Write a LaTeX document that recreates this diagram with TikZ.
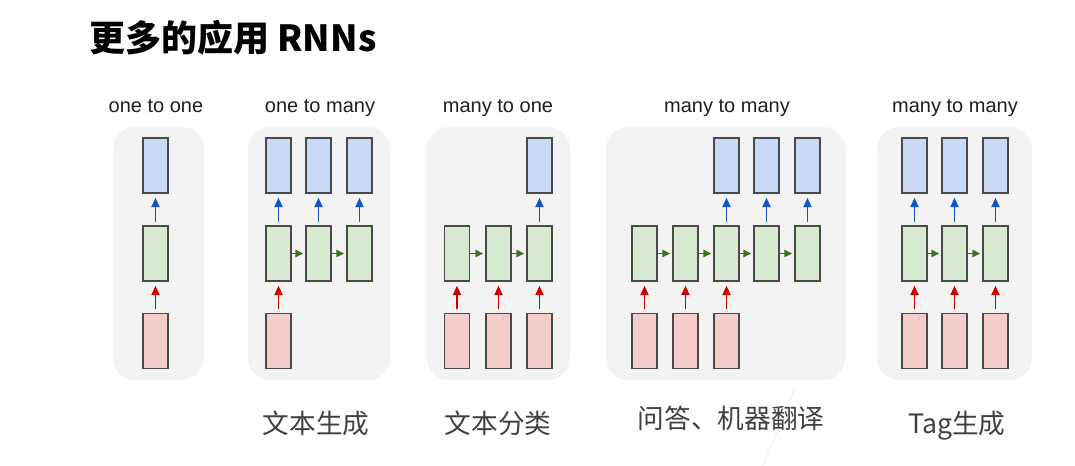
\documentclass[tikz,border=0pt]{standalone}
\usepackage{fontspec}
\setmainfont{Liberation Sans}
\newfontfamily\cjk{Noto Sans CJK SC}
\usetikzlibrary{arrows.meta}
\definecolor{panelbg}{HTML}{F3F3F3}
\definecolor{bluefill}{HTML}{C9DAF8}
\definecolor{greenfill}{HTML}{D9EAD3}
\definecolor{redfill}{HTML}{F4CCCC}
\definecolor{boxline}{HTML}{4A4A4A}
\definecolor{bluearr}{HTML}{1155CC}
\definecolor{redarr}{HTML}{CC0000}
\definecolor{greenarr}{HTML}{38761D}
\definecolor{labelgrey}{HTML}{404040}
\tikzset{
  panel/.style={fill=panelbg, draw=none, rounded corners=16.5pt},
  cell/.style={draw=boxline, line width=1.1pt, minimum width=18.75pt, minimum height=41.25pt, inner sep=0pt},
  outcell/.style={cell, fill=bluefill},
  hidcell/.style={cell, fill=greenfill},
  incell/.style={cell, fill=redfill},
  uparr/.style={line width=1.35pt, -{Triangle[length=7pt,width=6pt]}, shorten <=2.5pt, shorten >=3pt},
  bluearrow/.style={uparr, draw=bluearr, fill=bluearr},
  redarrow/.style={uparr, draw=redarr, fill=redarr},
  greenarrow/.style={line width=1.35pt, -{Triangle[length=6pt,width=5.4pt]}, draw=greenarr, fill=greenarr, shorten >=1.5pt},
  toplabel/.style={anchor=base, inner sep=0pt, text=black!88, font=\fontsize{15pt}{18pt}\selectfont},
  botlabel/.style={anchor=base, inner sep=0pt, text=labelgrey, font=\cjk\fontsize{20pt}{24pt}\selectfont},
}
\begin{document}
\begin{tikzpicture}[x=0.75pt, y=-0.75pt]
\useasboundingbox (0,0) rectangle (1075,466);
% title
\node[anchor=base west, inner sep=0pt, font=\cjk\bfseries\fontsize{27pt}{31pt}\selectfont] (title) at (89,52) {更多的应用 RNNs};
% faint artifact line
\draw[black!8, line width=0.5pt] (795,388) -- (763,466);
% panels
\fill[panel] (113,127) rectangle (204,380);
\fill[panel] (248,127) rectangle (390,380);
\fill[panel] (427,127) rectangle (570,380);
\fill[panel] (606,127) rectangle (845,380);
\fill[panel] (877,127) rectangle (1032,380);
% top labels
\node[toplabel] (t1) at (156,113) {one to one};
\node[toplabel] (t2) at (320,113) {one to many};
\node[toplabel] (t3) at (498,113) {many to one};
\node[toplabel] (t4) at (727,113) {many to many};
\node[toplabel] (t5) at (955,113) {many to many};
% bottom labels
\node[botlabel] (b2) at (316,434) {文本生成};
\node[botlabel] (b3) at (498,434) {文本分类};
\node[botlabel] (b4) at (731,429) {问答、机器翻译};
\node[botlabel] (b5) at (957,434) {Tag生成};
% ---------- panel 1: one to one
\node[outcell] (a1o) at (155.5,165.5) {};
\node[hidcell] (a1h) at (155.5,253.5) {};
\node[incell]  (a1i) at (155.5,341) {};
\draw[bluearrow] (a1h) -- (a1o);
\draw[redarrow] (a1i) -- (a1h);
% ---------- panel 2: one to many
\foreach \i/\x in {1/278.5,2/318.5,3/359.5}{
  \node[outcell] (b\i o) at (\x,165.5) {};
  \node[hidcell] (b\i h) at (\x,253.5) {};
  \draw[bluearrow] (b\i h) -- (b\i o);
}
\node[incell] (b1i) at (278.5,341) {};
\draw[redarrow] (b1i) -- (b1h);
\draw[greenarrow] (b1h) -- (b2h);
\draw[greenarrow] (b2h) -- (b3h);
% ---------- panel 3: many to one
\foreach \i/\x in {1/457,2/498.5,3/539.5}{
  \node[hidcell] (c\i h) at (\x,253.5) {};
  \node[incell] (c\i i) at (\x,341) {};
  \draw[redarrow] (c\i i) -- (c\i h);
}
\node[outcell] (c3o) at (539.5,165.5) {};
\draw[bluearrow] (c3h) -- (c3o);
\draw[greenarrow] (c1h) -- (c2h);
\draw[greenarrow] (c2h) -- (c3h);
% ---------- panel 4: many to many (seq2seq)
\foreach \i/\x in {1/644.5,2/685.5,3/726.5,4/766.5,5/807.5}{
  \node[hidcell] (d\i h) at (\x,253.5) {};
}
\foreach \i/\x in {1/644.5,2/685.5,3/726.5}{
  \node[incell] (d\i i) at (\x,341) {};
  \draw[redarrow] (d\i i) -- (d\i h);
}
\foreach \i/\x in {3/726.5,4/766.5,5/807.5}{
  \node[outcell] (d\i o) at (\x,165.5) {};
  \draw[bluearrow] (d\i h) -- (d\i o);
}
\draw[greenarrow] (d1h) -- (d2h);
\draw[greenarrow] (d2h) -- (d3h);
\draw[greenarrow] (d3h) -- (d4h);
\draw[greenarrow] (d4h) -- (d5h);
% ---------- panel 5: many to many (synced)
\foreach \i/\x in {1/914.5,2/954.5,3/995.5}{
  \node[outcell] (e\i o) at (\x,165.5) {};
  \node[hidcell] (e\i h) at (\x,253.5) {};
  \node[incell] (e\i i) at (\x,341) {};
  \draw[bluearrow] (e\i h) -- (e\i o);
  \draw[redarrow] (e\i i) -- (e\i h);
}
\draw[greenarrow] (e1h) -- (e2h);
\draw[greenarrow] (e2h) -- (e3h);
\end{tikzpicture}
\end{document}
